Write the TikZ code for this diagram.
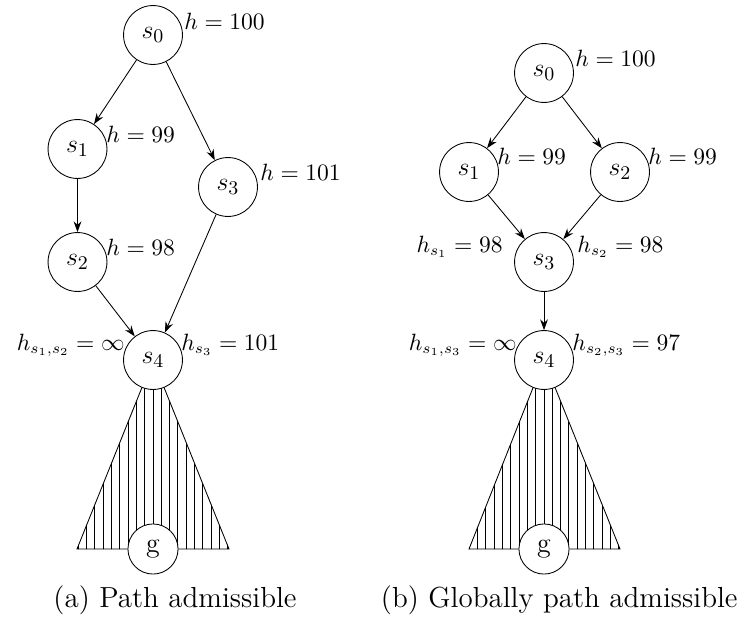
\documentclass[tikz,border=0pt]{standalone}
\usetikzlibrary{arrows.meta}
\begin{document}
\begin{tikzpicture}[x=0.4651pt,y=-0.4651pt,
  state/.style={circle,draw,fill=white,minimum size=27.4pt,inner sep=0pt,font=\fontsize{13}{15}\selectfont},
  goal/.style={circle,draw,fill=white,minimum size=23.3pt,inner sep=0pt,font=\fontsize{13}{15}\selectfont},
  hr/.style={inner sep=0pt,anchor=base west,font=\fontsize{10.5}{12.5}\selectfont},
  hl/.style={inner sep=0pt,anchor=base east,font=\fontsize{10.5}{12.5}\selectfont},
  edge/.style={-{Stealth[length=5pt,width=3.6pt]}},
  subcap/.style={font=\fontsize{13.5}{16}\selectfont,inner sep=0pt}]
\useasboundingbox (0,0) rectangle (744,618);

% ---------- (a) path admissible ----------
\coordinate (aTop) at (153,360);
\coordinate (aL) at (77,549);
\coordinate (aR) at (229,549);
\begin{scope}
  \clip (aTop) -- (aL) -- (aR) -- cycle;
  \foreach \i in {-9,...,9} \draw (153+\i*8.3,340) -- (153+\i*8.3,560);
\end{scope}
\draw (aTop) -- (aL) -- (aR) -- cycle;

\node[state] (a0) at (153,35) {$s_0$};
\node[state] (a1) at (77.5,149) {$s_1$};
\node[state] (a2) at (77.5,262) {$s_2$};
\node[state] (a3) at (228,187) {$s_3$};
\node[state] (a4) at (153,360) {$s_4$};
\node[goal] (ag) at (153,549) {g};

\draw[edge] (a0) -- (a1);
\draw[edge] (a0) -- (a3);
\draw[edge] (a1) -- (a2);
\draw[edge] (a2) -- (a4);
\draw[edge] (a3) -- (a4);

\node[hr] (ah0) at (184,29.5) {$h=100$};
\node[hr] (ah1) at (106,142) {$h=99$};
\node[hr] (ah2) at (106,255) {$h=98$};
\node[hr] (ah3) at (260,180) {$h=101$};
\node[hl] (ah4l) at (125,350) {$h_{s_1,s_2}=\infty$};
\node[hr] (ah4r) at (181,350) {$h_{s_3}=101$};

\node[subcap,anchor=base east] (capa) at (297,607) {(a) Path admissible};

% ---------- (b) globally path admissible ----------
\coordinate (bTop) at (544,360);
\coordinate (bL) at (469,549);
\coordinate (bR) at (620,549);
\begin{scope}
  \clip (bTop) -- (bL) -- (bR) -- cycle;
  \foreach \i in {-9,...,9} \draw (544+\i*8.3,340) -- (544+\i*8.3,560);
\end{scope}
\draw (bTop) -- (bL) -- (bR) -- cycle;

\node[state] (b0) at (544,73) {$s_0$};
\node[state] (b1) at (469,172) {$s_1$};
\node[state] (b2) at (620,172) {$s_2$};
\node[state] (b3) at (544,262) {$s_3$};
\node[state] (b4) at (544,360) {$s_4$};
\node[goal] (bg) at (544,549) {g};

\draw[edge] (b0) -- (b1);
\draw[edge] (b0) -- (b2);
\draw[edge] (b1) -- (b3);
\draw[edge] (b2) -- (b3);
\draw[edge] (b3) -- (b4);

\node[hr] (bh0) at (575,66) {$h=100$};
\node[hr] (bh1) at (497,164) {$h=99$};
\node[hr] (bh2) at (648,164) {$h=99$};
\node[hl] (bh3l) at (503,252) {$h_{s_1}=98$};
\node[hr] (bh3r) at (577,252) {$h_{s_2}=98$};
\node[hl] (bh4l) at (517,350) {$h_{s_1,s_3}=\infty$};
\node[hr] (bh4r) at (572,350) {$h_{s_2,s_3}=97$};

\node[subcap,anchor=base east] (capb) at (738,607) {(b) Globally path admissible};
\end{tikzpicture}
\end{document}
